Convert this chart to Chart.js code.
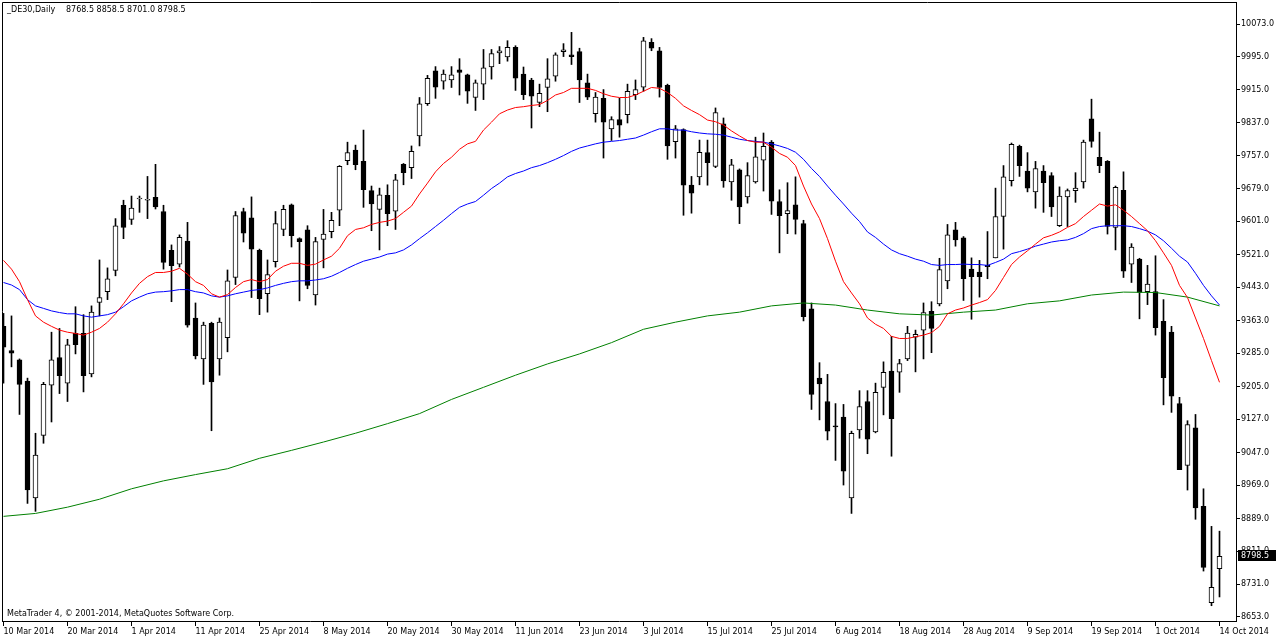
<!DOCTYPE html>
<html lang="en">
<head>
<meta charset="UTF-8" />
<title>_DE30,Daily</title>
<script src="https://cdn.jsdelivr.net/npm/chart.js@4.4.1/dist/chart.umd.min.js"></script>
<style>
  html, body { margin: 0; padding: 0; background: #fff; }
  canvas { display: block; }
</style>
</head>
<body>
<canvas id="chart" width="1276" height="639"></canvas>
<script>
// DE30 daily candles, 10 Mar 2014 .. 14 Oct 2014
const opens = [
  9349, 9291, 9269, 9218, 8938, 9088, 9208, 9274, 9213, 9332, 9332, 9235, 9406, 9432, 9483, 9639, 9605, 9654, 9651, 9658,
  9624, 9531, 9498, 9553, 9369, 9271, 9356, 9271, 9322, 9466, 9624, 9609, 9531, 9427, 9504, 9581, 9640, 9559, 9580, 9424,
  9557, 9576, 9627, 9746, 9771, 9744, 9674, 9629, 9663, 9625, 9737, 9729, 9805, 9882, 9961, 9936, 9939, 9963, 9951, 9897,
  9929, 9970, 10004, 9994, 10017, 9953, 9939, 9885, 9921, 9948, 10007, 9999, 10007, 9932, 9858, 9895, 9822, 9844, 9856, 9904,
  9922, 10029, 10009, 9926, 9791, 9820, 9687, 9707, 9765, 9732, 9834, 9695, 9724, 9659, 9695, 9747, 9790, 9648, 9619, 9640,
  9595, 9391, 9225, 9169, 9111, 9132, 8938, 9101, 9169, 9096, 9203, 9242, 9239, 9271, 9323, 9340, 9385, 9403, 9458, 9580,
  9561, 9486, 9479, 9495, 9513, 9612, 9698, 9780, 9721, 9671, 9721, 9710, 9590, 9659, 9674, 9695, 9846, 9754, 9744, 9586,
  9675, 9498, 9510, 9432, 9432, 9361, 9335, 9164, 9016, 9106, 8918, 8687, 8768.5
];
const highs = [
  9380, 9374, 9271, 9225, 9093, 9215, 9335, 9344, 9318, 9396, 9377, 9398, 9508, 9489, 9607, 9651, 9661, 9661, 9708, 9737,
  9639, 9544, 9568, 9598, 9405, 9359, 9359, 9369, 9484, 9624, 9632, 9659, 9534, 9508, 9624, 9639, 9642, 9561, 9590, 9562,
  9629, 9622, 9734, 9790, 9783, 9819, 9685, 9680, 9688, 9713, 9739, 9781, 9897, 9950, 9971, 9963, 9971, 9990, 9953, 9939,
  10012, 10012, 10019, 10033, 10021, 9970, 9943, 9929, 9990, 10004, 10026, 10053, 10015, 9953, 9909, 9916, 9851, 9895, 9929, 9939,
  10041, 10038, 10017, 9929, 9830, 9822, 9708, 9795, 9795, 9872, 9848, 9749, 9726, 9741, 9802, 9812, 9794, 9676, 9693, 9707,
  9603, 9405, 9262, 9234, 9164, 9162, 9098, 9195, 9195, 9213, 9264, 9325, 9270, 9349, 9340, 9405, 9408, 9512, 9593, 9598,
  9564, 9513, 9507, 9576, 9680, 9734, 9788, 9783, 9765, 9744, 9734, 9717, 9683, 9678, 9717, 9795, 9893, 9814, 9746, 9685,
  9719, 9547, 9512, 9495, 9518, 9413, 9349, 9179, 9123, 9138, 8960, 8870, 8858.5
];
const lows = [
  9213, 9252, 9138, 8925, 8906, 9069, 9120, 9188, 9169, 9283, 9192, 9228, 9374, 9413, 9470, 9559, 9593, 9622, 9607, 9630,
  9486, 9408, 9491, 9347, 9271, 9210, 9099, 9232, 9288, 9449, 9551, 9418, 9377, 9383, 9491, 9566, 9539, 9410, 9439, 9400,
  9489, 9561, 9590, 9736, 9724, 9634, 9578, 9532, 9590, 9581, 9688, 9703, 9781, 9878, 9895, 9917, 9921, 9903, 9883, 9866,
  9892, 9941, 9978, 9984, 9914, 9892, 9824, 9875, 9863, 9936, 9995, 9976, 9885, 9892, 9838, 9752, 9794, 9802, 9836, 9892,
  9912, 10009, 9898, 9749, 9752, 9615, 9620, 9688, 9687, 9729, 9682, 9651, 9595, 9644, 9692, 9673, 9617, 9525, 9571, 9570,
  9362, 9150, 9125, 9077, 9028, 8969, 8901, 9081, 9044, 9094, 9137, 9038, 9191, 9267, 9240, 9271, 9286, 9398, 9439, 9541,
  9411, 9366, 9419, 9463, 9513, 9534, 9685, 9708, 9671, 9632, 9622, 9612, 9588, 9588, 9646, 9680, 9778, 9717, 9570, 9532,
  9466, 9454, 9367, 9401, 9328, 9161, 9143, 9006, 8957, 8887, 8763, 8680, 8701.0
];
const closes = [
  9299, 9285, 9210, 8957, 9041, 9210, 9269, 9231, 9305, 9305, 9231, 9383, 9418, 9463, 9590, 9586, 9632, 9656, 9653, 9635,
  9502, 9494, 9562, 9352, 9278, 9352, 9216, 9359, 9458, 9614, 9572, 9534, 9415, 9473, 9595, 9629, 9566, 9552, 9447, 9552,
  9570, 9603, 9732, 9765, 9736, 9676, 9642, 9664, 9619, 9700, 9717, 9768, 9882, 9943, 9922, 9953, 9951, 9957, 9912, 9932,
  9968, 10002, 10009, 10017, 9943, 9904, 9900, 9907, 9942, 9999, 10011, 9995, 9939, 9898, 9898, 9838, 9844, 9831, 9912, 9916,
  10033, 10015, 9921, 9781, 9822, 9687, 9668, 9766, 9741, 9861, 9697, 9736, 9635, 9710, 9755, 9780, 9649, 9614, 9626, 9605,
  9372, 9186, 9211, 9098, 9108, 9002, 9093, 9157, 9079, 9191, 9239, 9128, 9260, 9333, 9330, 9382, 9344, 9485, 9568, 9556,
  9463, 9468, 9468, 9492, 9612, 9707, 9785, 9734, 9680, 9727, 9693, 9635, 9661, 9674, 9680, 9790, 9792, 9734, 9588, 9682,
  9481, 9539, 9430, 9450, 9346, 9226, 9182, 9006, 9114, 8914, 8772, 8724, 8798.5
];

// red and blue moving averages, one value per bar
const maRed = [
  9507, 9486, 9456, 9413, 9374, 9359, 9349, 9340, 9335, 9332, 9328, 9335, 9344, 9359, 9379, 9403, 9429, 9452, 9468, 9478,
  9478, 9481, 9488, 9474, 9456, 9447, 9427, 9419, 9425, 9442, 9456, 9461, 9456, 9461, 9481, 9493, 9500, 9500, 9495, 9498,
  9508, 9517, 9536, 9566, 9581, 9585, 9593, 9598, 9601, 9607, 9622, 9637, 9666, 9692, 9719, 9739, 9754, 9773, 9786, 9792,
  9819, 9838, 9858, 9867, 9873, 9875, 9878, 9880, 9890, 9903, 9909, 9919, 9919, 9919, 9914, 9906, 9900, 9897, 9897, 9903,
  9912, 9921, 9919, 9909, 9895, 9877, 9866, 9856, 9843, 9839, 9831, 9817, 9805, 9794, 9790, 9790, 9778, 9763, 9754, 9734,
  9685, 9642, 9607, 9559, 9505, 9456, 9429, 9403, 9369, 9354, 9344, 9325, 9320, 9320, 9324, 9328, 9334, 9349, 9379, 9388,
  9393, 9400, 9406, 9413, 9435, 9466, 9497, 9515, 9530, 9546, 9561, 9567, 9575, 9586, 9595, 9612, 9627, 9642, 9637, 9640,
  9627, 9612, 9595, 9578, 9554, 9525, 9495, 9447, 9418, 9369, 9320, 9267, 9215
];
const maBlue = [
  9454, 9448, 9437, 9413, 9398, 9392, 9386, 9382, 9379, 9379, 9374, 9371, 9374, 9377, 9383, 9396, 9410, 9419, 9427, 9431,
  9432, 9434, 9437, 9437, 9432, 9429, 9422, 9419, 9422, 9427, 9431, 9435, 9437, 9441, 9447, 9452, 9456, 9458, 9458, 9460,
  9463, 9469, 9478, 9488, 9497, 9505, 9510, 9515, 9522, 9525, 9532, 9544, 9559, 9573, 9588, 9603, 9619, 9634, 9642, 9648,
  9663, 9679, 9692, 9707, 9715, 9721, 9729, 9734, 9741, 9749, 9758, 9768, 9776, 9781, 9786, 9790, 9792, 9794, 9797, 9800,
  9807, 9815, 9822, 9822, 9819, 9819, 9815, 9812, 9810, 9809, 9807, 9802, 9797, 9794, 9792, 9790, 9786, 9781, 9775, 9766,
  9749, 9727, 9708, 9685, 9663, 9642, 9620, 9600, 9575, 9562, 9546, 9532, 9523, 9517, 9510, 9505, 9497, 9495, 9497, 9497,
  9498, 9497, 9497, 9495, 9502, 9510, 9523, 9528, 9534, 9541, 9546, 9551, 9554, 9556, 9562, 9571, 9583, 9588, 9590, 9590,
  9590, 9588, 9583, 9577, 9568, 9554, 9536, 9517, 9503, 9476, 9447, 9422, 9400
];
// green (long) moving average, sampled every 4 bars
const maGreenIdx = [0, 4, 8, 12, 16, 20, 24, 28, 32, 36, 40, 44, 48, 52, 56, 60, 64, 68, 72, 76,
  80, 84, 88, 92, 96, 100, 104, 108, 112, 116, 120, 124, 128, 132, 136, 140, 144, 148, 152];
const maGreen = [8894, 8901, 8916, 8935, 8960, 8979, 8994, 9008, 9033, 9052, 9072, 9093, 9116, 9140, 9174, 9203, 9232, 9259, 9283, 9310,
  9342, 9359, 9374, 9383, 9398, 9405, 9400, 9388, 9379, 9376, 9383, 9388, 9403, 9410, 9424, 9431, 9430, 9419, 9398];

// axis labels
const dateTickIdx = [0, 8, 16, 24, 32, 40, 48, 56, 64, 72, 80, 88, 96, 104, 112, 120, 128, 136, 144, 152];
const dateLabels = ["10 Mar 2014", "20 Mar 2014", "1 Apr 2014", "11 Apr 2014", "25 Apr 2014", "8 May 2014", "20 May 2014",
  "30 May 2014", "11 Jun 2014", "23 Jun 2014", "3 Jul 2014", "15 Jul 2014", "25 Jul 2014", "6 Aug 2014", "18 Aug 2014",
  "28 Aug 2014", "9 Sep 2014", "19 Sep 2014", "1 Oct 2014", "14 Oct 2014"];
const priceTicks = [10073, 9995, 9915, 9837, 9757, 9679, 9601, 9521, 9443, 9363, 9285, 9205, 9127, 9047, 8969, 8889, 8811, 8731, 8653];

const FONT = '"DejaVu Sans", Verdana, sans-serif';
const last = closes.length - 1;

// frame, header texts and the current price box
const mtDecor = {
  id: "mtDecor",
  afterDraw(chart) {
    const { ctx, chartArea: a, scales } = chart;
    ctx.save();
    ctx.strokeStyle = "#000";
    ctx.lineWidth = 1;
    ctx.beginPath();
    ctx.moveTo(a.left + 0.5, a.bottom);
    ctx.lineTo(a.left + 0.5, a.top + 0.5);
    ctx.lineTo(a.right, a.top + 0.5);
    ctx.stroke();

    ctx.font = "8px " + FONT;
    ctx.fillStyle = "#000";
    ctx.textBaseline = "middle";
    ctx.textAlign = "left";
    ctx.fillText("_DE30,Daily", 7, 10);
    ctx.fillText([opens[last], highs[last], lows[last], closes[last]].map((v) => v.toFixed(1)).join(" "), 66, 10);
    ctx.fillText("MetaTrader 4, \u00a9 2001-2014, MetaQuotes Software Corp.", 7, 614);

    const y = Math.round(scales.y.getPixelForValue(closes[last]));
    ctx.fillRect(a.right + 2, y - 6, 38, 11);
    ctx.fillStyle = "#fff";
    ctx.fillText(closes[last].toFixed(1), a.right + 5, y);
    ctx.restore();
  },
};

const bodyColors = closes.map((c, i) => (c >= opens[i] ? "#ffffff" : "#000000"));

new Chart(document.getElementById("chart"), {
  type: "bar",
  data: {
    datasets: [
      {
        type: "line",
        data: maRed.map((v, i) => ({ x: i, y: v })),
        borderColor: "#ff0000",
        borderWidth: 1,
        pointRadius: 0,
        order: 0,
      },
      {
        type: "line",
        data: maBlue.map((v, i) => ({ x: i, y: v })),
        borderColor: "#0000ff",
        borderWidth: 1,
        pointRadius: 0,
        order: 0,
      },
      {
        type: "line",
        data: maGreen.map((v, k) => ({ x: maGreenIdx[k], y: v })),
        borderColor: "#008000",
        borderWidth: 1,
        pointRadius: 0,
        order: 0,
      },
      {
        // candle bodies
        data: opens.map((o, i) => ({ x: i, y: [o, closes[i]] })),
        backgroundColor: bodyColors,
        borderColor: "#000",
        borderWidth: 1,
        borderSkipped: false,
        barThickness: 5,
        minBarLength: 1,
        grouped: false,
        order: 1,
      },
      {
        // wicks
        data: lows.map((l, i) => ({ x: i, y: [l, highs[i]] })),
        backgroundColor: "#000",
        borderWidth: 0,
        barThickness: 1,
        grouped: false,
        order: 2,
      },
    ],
  },
  options: {
    responsive: false,
    animation: false,
    layout: { padding: { top: 2, left: 2, right: 0, bottom: 0 } },
    plugins: { legend: { display: false }, tooltip: { enabled: false } },
    scales: {
      x: {
        type: "linear",
        offset: false,
        min: -0.1875,
        max: 154.0625,
        grid: { display: true, drawOnChartArea: false, drawTicks: true, tickLength: 5, color: "#000", offset: false },
        border: { display: true, color: "#000" },
        afterBuildTicks: (scale) => {
          scale.ticks = dateTickIdx.map((v) => ({ value: v }));
        },
        afterFit: (scale) => {
          scale.height = 18;
          scale.paddingLeft = 0;
          scale.paddingRight = 0;
        },
        ticks: {
          autoSkip: false,
          maxRotation: 0,
          minRotation: 0,
          align: "start",
          padding: 1,
          color: "#000",
          font: { family: FONT, size: 8 },
          callback: (v, i) => dateLabels[i],
        },
      },
      y: {
        type: "linear",
        position: "right",
        beginAtZero: false,
        min: 8643.4,
        max: 10125.7,
        grid: { display: true, drawOnChartArea: false, drawTicks: true, tickLength: 4, color: "#000" },
        border: { display: true, color: "#000" },
        afterBuildTicks: (scale) => {
          scale.ticks = priceTicks.map((v) => ({ value: v }));
        },
        afterFit: (scale) => {
          scale.width = 40;
          scale.paddingTop = 0;
          scale.paddingBottom = 0;
        },
        ticks: {
          autoSkip: false,
          padding: 1,
          color: "#000",
          font: { family: FONT, size: 8 },
          callback: (v) => v.toFixed(1),
        },
      },
    },
  },
  plugins: [mtDecor],
});
</script>
</body>
</html>
